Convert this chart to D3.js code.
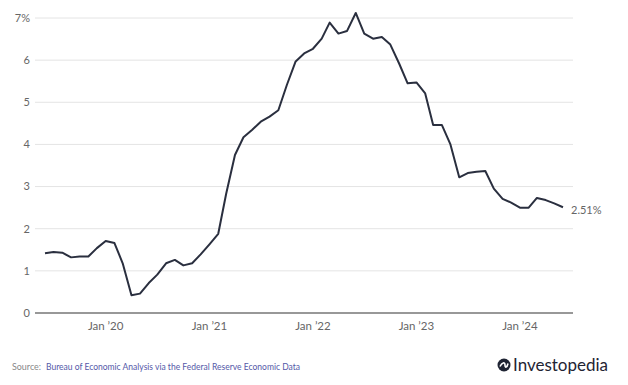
<!DOCTYPE html>
<html>
<head>
<meta charset="utf-8">
<script src="https://cdn.jsdelivr.net/npm/d3@7"></script>
<style>
  body { margin: 0; background: #fff; }
  svg text { font-family: "Source Sans Pro", Lato, "Noto Sans", sans-serif; }
</style>
</head>
<body>
<div id="chart"></div>
<script>
// monthly, Jun 2019 .. Jun 2024
var start_month = "2019-06";
var pce_vals = [1.42, 1.45, 1.43, 1.32, 1.34, 1.34, 1.54, 1.71, 1.66, 1.18, 0.42, 0.46,
                0.71, 0.91, 1.18, 1.26, 1.13, 1.18, 1.39, 1.63, 1.88, 2.83, 3.75, 4.17,
                4.35, 4.54, 4.66, 4.81, 5.41, 5.97, 6.16, 6.27, 6.51, 6.89, 6.63, 6.69,
                7.12, 6.63, 6.51, 6.55, 6.37, 5.92, 5.45, 5.47, 5.21, 4.46, 4.46, 4.00,
                3.22, 3.32, 3.35, 3.37, 2.95, 2.71, 2.62, 2.50, 2.50, 2.73, 2.68, 2.60,
                2.51];
var y_ticks = [0, 1, 2, 3, 4, 5, 6, 7];
var x_tick_years = [2020, 2021, 2022, 2023, 2024];
var last_label = "2.51%";

var W = 628, H = 385;
var plot = {left: 35, right: 573, top: 18, bottom: 313};
var pad = 10; // gap between plot edge and first / last point

var parseMonth = d3.timeParse("%Y-%m");
var t0 = parseMonth(start_month);
var data = pce_vals.map(function(v, i) {
    return {date: d3.timeMonth.offset(t0, i), v: v};
});

var svg = d3.select("#chart")
    .append("svg")
    .attr("width", W)
    .attr("height", H);

var x = d3.scaleTime()
    .domain(d3.extent(data, function(d) { return d.date; }))
    .range([plot.left + pad, plot.right - pad]);

var y = d3.scaleLinear()
    .domain([0, 7])
    .range([plot.bottom, plot.top]);

// gridlines
svg.append("g")
    .selectAll("line")
    .data(y_ticks.filter(function(d) { return d > 0; }))
    .enter()
    .append("line")
    .attr("x1", plot.left)
    .attr("x2", plot.right)
    .attr("y1", function(d) { return y(d); })
    .attr("y2", function(d) { return y(d); })
    .attr("stroke", "#e4e4e4")
    .attr("stroke-width", 1);

// y labels
svg.append("g")
    .selectAll("text")
    .data(y_ticks)
    .enter()
    .append("text")
    .attr("x", 30)
    .attr("y", function(d) { return y(d); })
    .attr("dy", "0.35em")
    .attr("text-anchor", "end")
    .attr("font-size", "11px")
    .attr("fill", "#666")
    .text(function(d) { return d === 7 ? d + "%" : d; });

// baseline
svg.append("line")
    .attr("x1", plot.left)
    .attr("x2", plot.right)
    .attr("y1", y(0))
    .attr("y2", y(0))
    .attr("stroke", "#333")
    .attr("stroke-width", 1.2);

// x labels
var fmt = d3.timeFormat("%y");
svg.append("g")
    .selectAll("text")
    .data(x_tick_years.map(function(yr) { return new Date(yr, 0, 1); }))
    .enter()
    .append("text")
    .attr("x", function(d) { return x(d); })
    .attr("y", 326)
    .attr("dy", "0.35em")
    .attr("text-anchor", "middle")
    .attr("font-size", "11.5px")
    .attr("fill", "#666")
    .text(function(d) { return "Jan \u2019" + fmt(d); });

// series
var line = d3.line()
    .x(function(d) { return x(d.date); })
    .y(function(d) { return y(d.v); });

svg.append("path")
    .datum(data)
    .attr("d", line)
    .attr("fill", "none")
    .attr("stroke", "#2a2f3f")
    .attr("stroke-width", 2)
    .attr("stroke-linejoin", "round");

var last = data[data.length - 1];
svg.append("text")
    .attr("x", x(last.date) + 8)
    .attr("y", y(last.v) + 3)
    .attr("dy", "0.35em")
    .attr("font-size", "11px")
    .attr("fill", "#666")
    .text(last_label);

// source (original font is narrower, squeeze to its width)
svg.append("text")
    .attr("x", 12)
    .attr("y", 366)
    .attr("dy", "0.35em")
    .attr("font-size", "10px")
    .attr("fill", "#888")
    .attr("textLength", 29)
    .attr("lengthAdjust", "spacingAndGlyphs")
    .text("Source:");
svg.append("text")
    .attr("x", 46)
    .attr("y", 366)
    .attr("dy", "0.35em")
    .attr("font-size", "10px")
    .attr("fill", "#5458a8")
    .attr("textLength", 254)
    .attr("lengthAdjust", "spacingAndGlyphs")
    .text("Bureau of Economic Analysis via the Federal Reserve Economic Data");

// logo
var logo = svg.append("g").attr("transform", "translate(504,365)");
logo.append("circle")
    .attr("r", 6.5)
    .attr("fill", "#1f2433");
logo.append("path")
    .attr("d", "M-4,1.5 C-2,-3 1,-3 1,0 C1,3 3,3 4,-1.5")
    .attr("fill", "none")
    .attr("stroke", "#fff")
    .attr("stroke-width", 1.6);
logo.append("text")
    .attr("x", 9)
    .attr("dy", "0.35em")
    .attr("font-size", "17px")
    .attr("fill", "#1f2433")
    .attr("font-family", "Lato, 'Noto Sans', sans-serif")
    .text("Investopedia");
</script>
</body>
</html>
